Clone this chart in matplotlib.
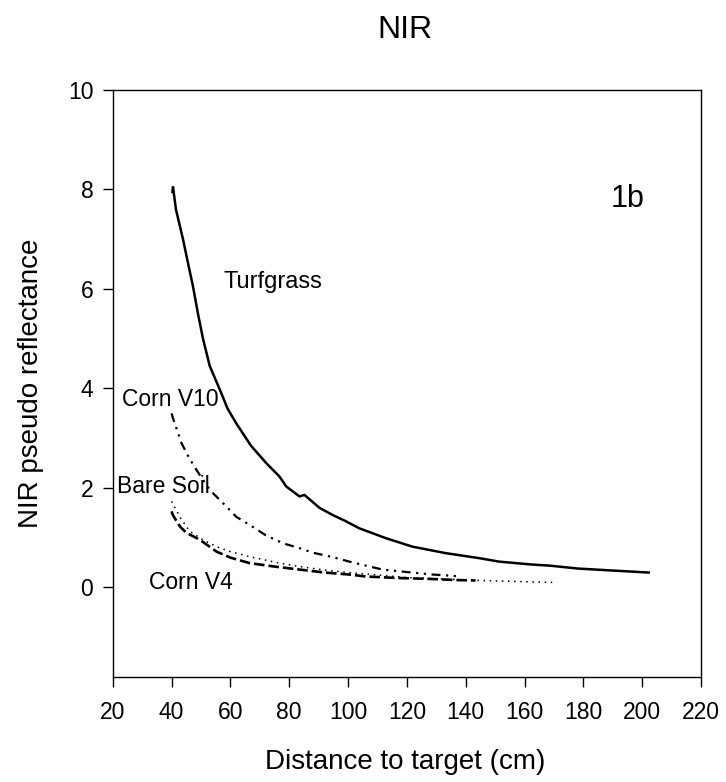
import matplotlib
matplotlib.use("Agg")
import matplotlib.pyplot as plt

plt.rcParams['font.family'] = ['Liberation Sans', 'DejaVu Sans']

# Data
turf_x = [40.3, 40.5, 41.5, 43.9, 45.5, 47.3, 49.0, 50.7, 53.0, 56.9, 59.0, 62.0, 67.0, 72.2,
          76.7, 79.0, 83.5, 85.2, 90.3, 95.0, 99.3, 103.8, 112.9, 121.9, 133.2, 144.5,
          151.3, 162.6, 168.3, 178.2, 190.0, 202.2]
turf_y = [7.95, 8.05, 7.6, 7.0, 6.55, 6.05, 5.5, 5.0, 4.45, 3.91, 3.6, 3.30, 2.85, 2.50,
          2.23, 2.03, 1.83, 1.86, 1.60, 1.45, 1.33, 1.19, 0.99, 0.82, 0.69, 0.59,
          0.52, 0.46, 0.44, 0.38, 0.34, 0.30]

v10_x = [40.0, 40.5, 43.4, 46.0, 48.5, 53.0, 58.6, 62.0, 66.5, 72.0, 77.8, 83.5, 88.0,
         94.8, 100.4, 106.0, 111.7, 120.0, 128.7, 134.0, 138.5]
v10_y = [3.50, 3.40, 2.90, 2.60, 2.36, 1.96, 1.63, 1.42, 1.26, 1.05, 0.89, 0.79, 0.70,
         0.61, 0.52, 0.44, 0.36, 0.31, 0.26, 0.24, 0.22]

soil_x = [40.0, 41.0, 43.0, 46.2, 50.0, 55.3, 60.0, 66.5, 75.0, 83.5, 92.0, 100.0, 110.0,
          120.0, 132.0, 145.0, 158.0, 170.0]
soil_y = [1.73, 1.62, 1.40, 1.13, 0.98, 0.82, 0.72, 0.62, 0.51, 0.42, 0.35, 0.30, 0.25,
          0.20, 0.17, 0.14, 0.12, 0.10]

v4_x = [40.0, 40.5, 42.8, 45.0, 49.6, 55.3, 60.0, 66.5, 75.0, 83.5, 92.0, 100.4, 106.1,
        117.0, 128.7, 136.0, 143.4]
v4_y = [1.53, 1.45, 1.23, 1.10, 0.96, 0.72, 0.60, 0.49, 0.42, 0.36, 0.30, 0.26, 0.22,
        0.19, 0.17, 0.15, 0.14]

x_ticks = [20, 40, 60, 80, 100, 120, 140, 160, 180, 200, 220]
y_ticks = [0, 2, 4, 6, 8, 10]

W, H = 726, 782
fig = plt.figure(figsize=(W / 100, H / 100), dpi=100)
ax = fig.add_axes([112.7 / W, 1 - 677 / H, (701 - 112.7) / W, (677 - 90) / H])

ax.plot(turf_x, turf_y, color='black', lw=1.8, solid_joinstyle='round')
ax.plot(v10_x, v10_y, color='black', lw=1.6, dashes=(4, 2.5, 1, 2.5, 1, 2.5))
ax.plot(soil_x, soil_y, color='black', lw=1.1, dashes=(1, 3))
ax.plot(v4_x, v4_y, color='black', lw=1.9, dashes=(4, 1.5))

ax.set_xlim(20, 220)
ax.set_ylim(-1.8, 10)
ax.set_xticks(x_ticks)
ax.set_yticks(y_ticks)
ax.tick_params(axis='both', direction='out', length=7, width=1, labelsize=16.5)
ax.tick_params(axis='x', pad=10)
ax.tick_params(axis='y', pad=7)
for s in ax.spines.values():
    s.set_linewidth(1)

ax.text(57.5, 6.15, 'Turfgrass', fontsize=17, va='center', ha='left')
ax.text(23.0, 3.77, 'Corn V10', fontsize=16.5, va='center', ha='left')
ax.text(21.6, 2.02, 'Bare Soil', fontsize=16.5, va='center', ha='left')
ax.text(32.4, 0.10, 'Corn V4', fontsize=16.5, va='center', ha='left')
ax.text(189.3, 7.8, '1b', fontsize=22, va='center', ha='left')

fig.text(405 / W, 1 - 30 / H, 'NIR', fontsize=23, ha='center', va='center')
fig.text(405 / W, 1 - 762 / H, 'Distance to target (cm)', fontsize=20, ha='center', va='center')
fig.text(31 / W, 1 - 383 / H, 'NIR pseudo reflectance', fontsize=20, ha='center', va='center',
         rotation=90)

fig.savefig('out.png', dpi=100)
